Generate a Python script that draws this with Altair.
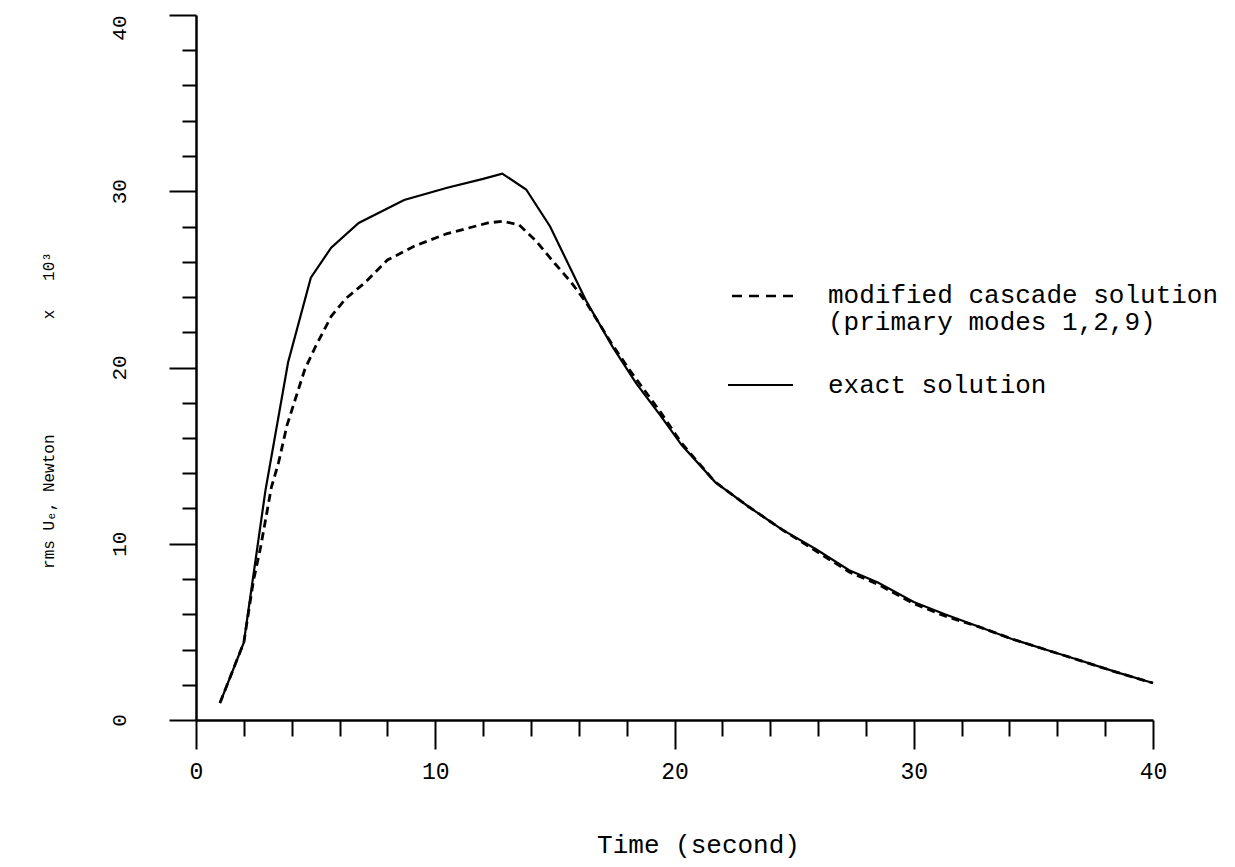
import altair as alt
import pandas as pd

# ---- data ----
time_exact = [1.0, 2.0, 2.9, 3.85, 4.8, 5.65, 6.8, 8.7, 10.5, 12.0, 12.8, 13.8, 14.8,
              16.3, 17.4, 18.4, 19.4, 20.3, 21.7, 23.1, 24.5, 25.9, 27.3, 28.5, 30.0,
              31.3, 32.7, 34.1, 35.5, 36.9, 38.5, 40.0]
rms_exact = [0.96, 4.4, 13.0, 20.3, 25.1, 26.8, 28.2, 29.5, 30.2, 30.7, 31.0, 30.1, 28.0,
             23.8, 21.2, 19.1, 17.3, 15.6, 13.5, 12.1, 10.8, 9.7, 8.5, 7.8, 6.7,
             6.0, 5.3, 4.6, 4.0, 3.4, 2.7, 2.1]

time_modified = [1.0, 2.0, 2.4, 2.7, 2.9, 3.15, 3.45, 3.8, 4.15, 4.55, 5.0, 5.65, 6.25,
                 7.05, 8.0, 9.15, 10.5, 12.2, 12.8, 13.5, 14.2, 15.0, 15.7, 16.3, 17.4,
                 18.1, 19.4, 20.3, 21.7, 23.1, 24.5, 25.9, 27.3, 28.5, 30.0, 31.3, 32.7,
                 34.1, 35.5, 36.9, 38.5, 40.0]
rms_modified = [0.96, 4.4, 7.9, 9.8, 11.3, 13.2, 14.6, 16.7, 18.2, 19.9, 21.2, 22.9, 23.9,
                24.8, 26.1, 26.9, 27.6, 28.2, 28.3, 28.1, 27.2, 25.9, 24.8, 23.7, 21.3,
                19.9, 17.5, 15.7, 13.5, 12.1, 10.8, 9.6, 8.4, 7.7, 6.6, 5.9, 5.3,
                4.6, 4.0, 3.4, 2.7, 2.1]

x_tick_values = list(range(0, 41, 2))
y_tick_values = list(range(0, 41, 2))
legend_labels = ["modified cascade solution", "(primary modes 1,2,9)", "exact solution"]
x_title = "Time (second)"
y_title = "rms U\u2091, Newton" + "\u00a0" * 12 + "x" + "\u00a0" * 3 + "10\u00b3"

W, H = 957, 705
FONT = "Liberation Mono"

df_exact = pd.DataFrame({"t": time_exact, "v": rms_exact})
df_mod = pd.DataFrame({"t": time_modified, "v": rms_modified})

xscale = alt.Scale(domain=[0, 40], nice=False, zero=False)
yscale = alt.Scale(domain=[0, 40], nice=False)

x_axis = alt.Axis(
    values=x_tick_values, format="d", title=x_title,
    labelExpr="datum.value % 10 === 0 ? datum.label : ''",
    tickSize={"condition": {"test": "datum.value % 10 === 0", "value": 29}, "value": 16},
    labelPadding=11, labelFont=FONT, labelFontSize=23, labelColor="black",
    labelOverlap=False, labelFlush=False, labelBaseline="top",
    titleFont=FONT, titleFontSize=26, titleFontWeight="normal", titleColor="black",
    titleX=502, titleY=132, titleAlign="center", titleBaseline="alphabetic",
    domainColor="black", domainWidth=2.5, tickColor="black", tickWidth=2, grid=False,
)
y_axis = alt.Axis(
    values=y_tick_values, format="d", title=y_title,
    labelExpr="datum.value % 10 === 0 ? datum.label : ''",
    tickSize={"condition": {"test": "datum.value % 10 === 0", "value": 27}, "value": 14},
    labelPadding=50, labelFont=FONT, labelFontSize=21, labelColor="black",
    labelAngle=270,
    labelAlign={"condition": {"test": "datum.value === 40", "value": "right"}, "value": "center"},
    labelBaseline="middle",
    labelOverlap=False, labelFlush=False,
    titleFont=FONT, titleFontSize=16, titleFontWeight="normal", titleColor="black",
    titleAngle=270, titleX=-143, titleY=395, titleAlign="center", titleBaseline="alphabetic",
    domainColor="black", domainWidth=2.5, tickColor="black", tickWidth=2, grid=False,
)

x_enc = alt.X("t:Q", scale=xscale, axis=x_axis)
y_enc = alt.Y("v:Q", scale=yscale, axis=y_axis)

exact_line = alt.Chart(df_exact).mark_line(color="black", strokeWidth=2.2).encode(x=x_enc, y=y_enc)
mod_line = alt.Chart(df_mod).mark_line(color="black", strokeWidth=2.8, strokeDash=[8, 5]).encode(x=x_enc, y=y_enc)

one = alt.Data(values=[{}])
leg_dash = alt.Chart(one).mark_rule(color="black", strokeWidth=2.5, strokeDash=[10, 7]).encode(
    x=alt.value(536), x2=alt.value(599), y=alt.value(281))
leg_solid = alt.Chart(one).mark_rule(color="black", strokeWidth=2.2).encode(
    x=alt.value(532), x2=alt.value(597), y=alt.value(370))

def leg_text(label, ypix):
    return alt.Chart(one).mark_text(
        align="left", baseline="alphabetic", font=FONT, fontSize=26, color="black"
    ).encode(x=alt.value(632), y=alt.value(ypix), text=alt.value(label))

chart = alt.layer(
    exact_line, mod_line, leg_dash, leg_solid,
    leg_text(legend_labels[0], 288), leg_text(legend_labels[1], 315), leg_text(legend_labels[2], 378),
).properties(
    width=W, height=H,
    autosize=alt.AutoSizeParams(type="none"),
    padding={"left": 188, "top": 7, "right": 74, "bottom": 139},
    background="white",
).configure_view(stroke=None)

chart.save("out.html", embed_options={"renderer": "svg", "actions": False})
